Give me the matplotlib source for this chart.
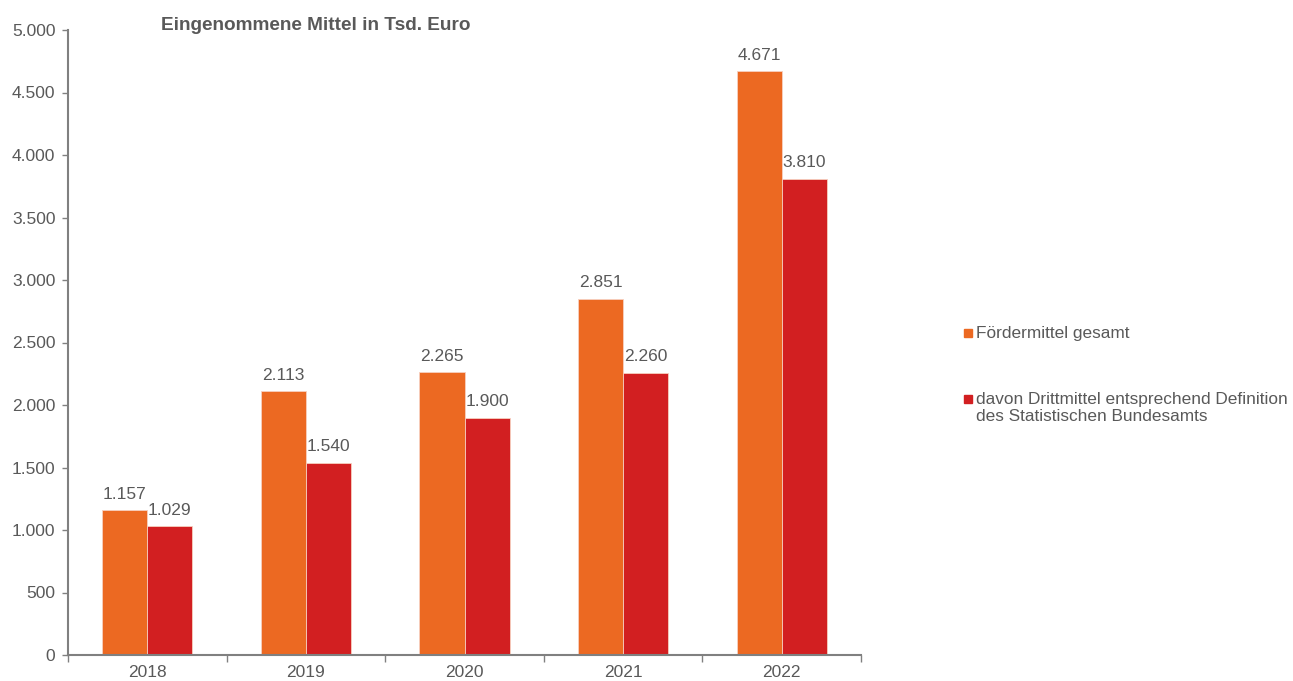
import matplotlib
matplotlib.use("Agg")
import matplotlib.pyplot as plt
import numpy as np
from matplotlib.patches import Rectangle

plt.rcParams['font.family'] = ['Liberation Sans', 'DejaVu Sans']

years = ["2018", "2019", "2020", "2021", "2022"]
foerdermittel = [1157, 2113, 2265, 2851, 4671]
drittmittel = [1029, 1540, 1900, 2260, 3810]
series_labels = ["Fördermittel gesamt",
                 "davon Drittmittel entsprechend Definition\ndes Statistischen Bundesamts"]
colors = ["#EC6922", "#D21F21"]
title = "Eingenommene Mittel in Tsd. Euro"

txt = "#595959"
axc = "#808080"
fs = 12.5

fig = plt.figure(figsize=(12.93, 6.81), dpi=100)
ax = fig.add_axes([68/1293, 26/681, (861-68)/1293, (655-30)/681])

x = np.arange(len(years))
w = 0.284
b1 = ax.bar(x - w/2, foerdermittel, w, color=colors[0], edgecolor="#f7d0c0", linewidth=0.6)
b2 = ax.bar(x + w/2, drittmittel, w, color=colors[1], edgecolor="#f7d0c0", linewidth=0.6)

def fmt(v):
    return f"{v:,.0f}".replace(",", ".")

for bars, vals in ((b1, foerdermittel), (b2, drittmittel)):
    for r, v in zip(bars, vals):
        ax.annotate(fmt(v), (r.get_x() + r.get_width()/2, v), xytext=(0, 6),
                    textcoords="offset points", ha="center", va="bottom",
                    fontsize=fs, color=txt)

ax.set_xlim(-0.5, len(years) - 0.5)
ax.set_ylim(0, 5000)
ax.set_yticks(np.arange(0, 5001, 500))
ax.set_yticklabels([fmt(v) for v in np.arange(0, 5001, 500)])
ax.set_xticks(x)
ax.set_xticklabels(years)
ax.set_xticks(np.arange(-0.5, len(years)), minor=True)
ax.tick_params(axis="x", which="major", length=0, pad=7, labelsize=fs, labelcolor=txt)
ax.tick_params(axis="x", which="minor", length=5, color=axc, width=1)
ax.tick_params(axis="y", length=4, color=axc, width=1, labelsize=fs, labelcolor=txt, pad=5)

for s in ("top", "right"):
    ax.spines[s].set_visible(False)
for s in ("left", "bottom"):
    ax.spines[s].set_color(axc)
    ax.spines[s].set_linewidth(1.5)

fig.text(161/1293, 1 - 26/681, title, fontsize=13.7, fontweight="bold", color=txt,
         ha="left", va="center")

# legend (manual)
leg_y = [333, 399]
for c, lab, yy in zip(colors, series_labels, leg_y):
    fig.patches.append(Rectangle((964/1293, 1 - (yy + 4)/681), 8/1293, 8/681,
                                 transform=fig.transFigure, color=c))
    fig.text(976/1293, 1 - (yy - 7)/681, lab, fontsize=12.4, color=txt,
             ha="left", va="top", linespacing=1.2)

fig.savefig("out.png", dpi=100)
